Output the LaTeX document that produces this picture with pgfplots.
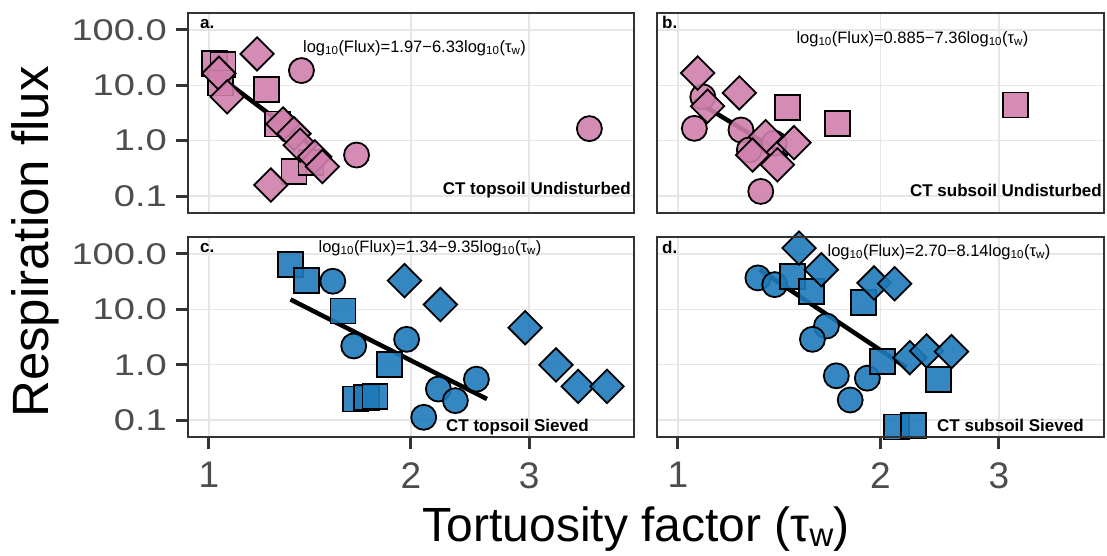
\documentclass[border=0pt]{standalone}
\usepackage{fontspec}
\setmainfont{Liberation Sans}
\usepackage{graphicx}
\usepackage{pgfplots}
\pgfplotsset{compat=1.18}
\definecolor{pinkf}{RGB}{208,128,172}
\definecolor{bluef}{RGB}{30,122,186}
\definecolor{framec}{RGB}{51,51,51}
\definecolor{gridc}{RGB}{230,230,230}
\definecolor{labc}{RGB}{77,77,77}
\pgfplotsset{
  mypanel/.style={
    scale only axis, height=200pt,
    xmin=0.931, xmax=4.30, ymin=0.0493, ymax=202.8,
    xtick={1,2,3}, ytick={0.1,1,10,100},
    xminorticks=false, yminorticks=false,
    grid=major, major grid style={line width=1.6pt, draw=gridc},
    axis line style={line width=2.5pt, draw=framec},
    tick align=outside, major tick length=12pt,
    tick style={line width=3pt, draw=framec},
    xtick pos=bottom, ytick pos=left,
    xticklabels={}, yticklabels={},
    xticklabel style={font=\fontsize{37}{37}\selectfont, text=labc, anchor=north, inner sep=0pt, yshift=-13pt},
    yticklabel style={font=\fontsize{30}{30}\selectfont, text=labc, anchor=east, inner sep=0pt, xshift=-9pt},
    clip=true,
  },
  mywithy/.style={yticklabels={\scalebox{1.27}[1]{0.1},\scalebox{1.27}[1]{1.0},\scalebox{1.27}[1]{10.0},\scalebox{1.27}[1]{100.0}}},
  mynoy/.style={ytick style={draw=none}},
  mywithx/.style={xticklabels={1,2,3}},
  mynox/.style={xtick style={draw=none}},
  mycirc/.style={only marks, mark=*, mark size=12.5pt, mark options={draw=black, line width=1.8pt, fill=#1, fill opacity=0.9}},
  mysq/.style={only marks, mark=square*, mark size=12.5pt, mark options={draw=black, line width=1.8pt, fill=#1, fill opacity=0.9}},
  mydia/.style={only marks, mark=square*, mark size=11.8pt, mark options={rotate=45, draw=black, line width=1.8pt, fill=#1, fill opacity=0.9}},
  myfit/.style={no marks, draw=black, line width=4.5pt},
}
\begin{document}
\begin{tikzpicture}
\path[use as bounding box] (0pt,0pt) rectangle (1107pt,-555pt);
% panel a
\begin{loglogaxis}[mypanel, mywithy, mynox, width=446pt, at={(188pt,-213pt)}, anchor=south west]
\addplot[mycirc=pinkf] coordinates {(1.374,18.5) (1.66,0.55) (3.69,1.65)};
\addplot[mysq=pinkf] coordinates {(1.02,25) (1.05,24) (1.04,11) (1.219,8.3) (1.267,2.0) (1.339,0.275) (1.42,0.40)};
\addplot[mydia=pinkf] coordinates {(1.18,37) (1.035,16.5) (1.065,6.2) (1.29,2.0) (1.339,1.34) (1.368,0.83) (1.438,0.51) (1.476,0.34) (1.237,0.158)};
\addplot[myfit] coordinates {(1.036,14.5) (1.418,0.83)};
\end{loglogaxis}
% panel b
\begin{loglogaxis}[mypanel, mynoy, mynox, width=447pt, at={(657pt,-213pt)}, anchor=south west]
\addplot[mycirc=pinkf] coordinates {(1.089,6.2) (1.058,1.67) (1.241,1.56) (1.39,0.9) (1.277,0.68) (1.328,0.121)};
\addplot[mysq=pinkf] coordinates {(1.455,3.97) (1.726,2.05) (3.18,4.4)};
\addplot[mydia=pinkf] coordinates {(1.07,16.7) (1.107,4.2) (1.234,7.3) (1.35,1.18) (1.488,0.92) (1.291,0.55) (1.406,0.366)};
\addplot[myfit] coordinates {(1.058,5.4) (1.455,0.52)};
\end{loglogaxis}
% panel c
\begin{loglogaxis}[mypanel, mywithy, mywithx, width=446pt, at={(188pt,-437pt)}, anchor=south west]
\addplot[mycirc=bluef] coordinates {(1.53,32.2) (1.644,2.18) (1.971,2.87) (2.198,0.363) (2.33,0.224) (2.504,0.547) (2.09,0.112)};
\addplot[mysq=bluef] coordinates {(1.323,64) (1.398,33) (1.585,9.3) (1.86,1.02) (1.656,0.24) (1.717,0.255) (1.768,0.27)};
\addplot[mydia=bluef] coordinates {(1.957,33) (2.213,12.2) (2.96,4.66) (3.29,0.99) (3.55,0.405) (3.92,0.405)};
\addplot[myfit] coordinates {(1.323,15.1) (2.596,0.24)};
\end{loglogaxis}
% panel d
\begin{loglogaxis}[mypanel, mynoy, mywithx, width=447pt, at={(657pt,-437pt)}, anchor=south west]
\addplot[mycirc=bluef] coordinates {(1.315,37) (1.393,28) (1.663,5.0) (1.585,2.87) (1.72,0.63) (1.913,0.57) (1.804,0.23)};
\addplot[mysq=bluef] coordinates {(1.48,39.6) (1.579,21.3) (1.889,13.1) (2.014,1.14) (2.437,0.547) (2.113,0.075) (2.243,0.08)};
\addplot[mydia=bluef] coordinates {(1.514,128) (1.634,52) (1.957,30) (2.10,29) (2.212,1.34) (2.342,1.77) (2.551,1.72)};
\addplot[myfit] coordinates {(1.323,52) (2.187,0.89)};
\end{loglogaxis}
% frames on top
\draw[line width=2.5pt, draw=framec] (188pt,-213pt) rectangle (634pt,-13pt);
\draw[line width=2.5pt, draw=framec] (657pt,-213pt) rectangle (1104pt,-13pt);
\draw[line width=2.5pt, draw=framec] (188pt,-437pt) rectangle (634pt,-237pt);
\draw[line width=2.5pt, draw=framec] (657pt,-437pt) rectangle (1104pt,-237pt);
% panel letters
\node[font=\bfseries\fontsize{17}{17}\selectfont, anchor=base west, inner sep=0pt] at (200pt,-28pt) {a.};
\node[font=\bfseries\fontsize{17}{17}\selectfont, anchor=base west, inner sep=0pt] at (662pt,-28pt) {b.};
\node[font=\bfseries\fontsize{17}{17}\selectfont, anchor=base west, inner sep=0pt] at (200pt,-252pt) {c.};
\node[font=\bfseries\fontsize{17}{17}\selectfont, anchor=base west, inner sep=0pt] at (662pt,-253pt) {d.};
% equations
\node[font=\fontsize{16.5}{16.5}\selectfont, inner sep=0pt] at (414.5pt,-48pt) {log\textsubscript{10}(Flux)=1.97−6.33log\textsubscript{10}(τ\textsubscript{w})};
\node[font=\fontsize{16.5}{16.5}\selectfont, inner sep=0pt] at (912.5pt,-39pt) {log\textsubscript{10}(Flux)=0.885−7.36log\textsubscript{10}(τ\textsubscript{w})};
\node[font=\fontsize{16.5}{16.5}\selectfont, inner sep=0pt] at (430pt,-248pt) {log\textsubscript{10}(Flux)=1.34−9.35log\textsubscript{10}(τ\textsubscript{w})};
\node[font=\fontsize{16.5}{16.5}\selectfont, inner sep=0pt] at (939pt,-252pt) {log\textsubscript{10}(Flux)=2.70−8.14log\textsubscript{10}(τ\textsubscript{w})};
% bottom labels
\node[font=\bfseries\fontsize{17}{17}\selectfont, anchor=base east, inner sep=0pt] at (631pt,-194pt) {CT topsoil Undisturbed};
\node[font=\bfseries\fontsize{17}{17}\selectfont, anchor=base east, inner sep=0pt] at (1102pt,-196pt) {CT subsoil Undisturbed};
\node[font=\bfseries\fontsize{17}{17}\selectfont, anchor=base west, inner sep=0pt] at (446pt,-431pt) {CT topsoil Sieved};
\node[font=\bfseries\fontsize{17}{17}\selectfont, anchor=base west, inner sep=0pt] at (937pt,-431pt) {CT subsoil Sieved};
% axis titles
\node[rotate=90, anchor=base, font=\fontsize{51}{51}\selectfont, inner sep=0pt] at (48pt,-242pt) {Respiration flux};
\node[anchor=base, font=\fontsize{48}{48}\selectfont, inner sep=0pt] at (636pt,-541pt) {Tortuosity factor (τ\raisebox{-0.12em}{\fontsize{33}{33}\selectfont w})};
\end{tikzpicture}
\end{document}
